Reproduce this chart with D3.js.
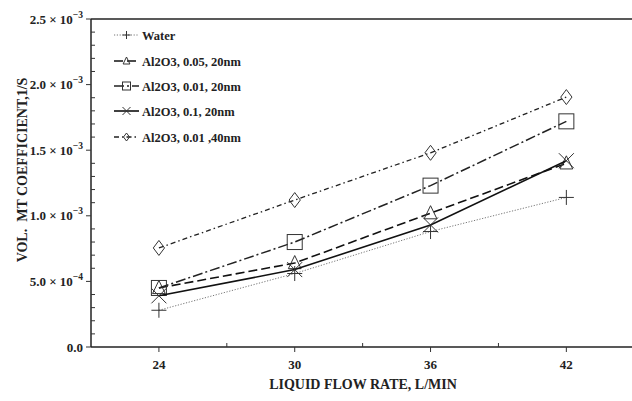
<!DOCTYPE html>
<html><head><meta charset="utf-8">
<script src="https://cdn.jsdelivr.net/npm/d3@7"></script>
<style>body{margin:0;background:#fff;} svg{display:block;}</style>
</head><body>
<script>
const flowRates = [24, 30, 36, 42];
const seriesNames = ["Water", "Al2O3, 0.05, 20nm", "Al2O3, 0.01, 20nm", "Al2O3, 0.1, 20nm", "Al2O3, 0.01 ,40nm"];
const water     = [0.28e-3, 0.56e-3, 0.88e-3, 1.14e-3];
const al005_20  = [0.45e-3, 0.64e-3, 1.02e-3, 1.40e-3];
const al001_20  = [0.45e-3, 0.80e-3, 1.23e-3, 1.72e-3];
const al01_20   = [0.39e-3, 0.59e-3, 0.93e-3, 1.42e-3];
const al001_40  = [0.755e-3, 1.12e-3, 1.48e-3, 1.905e-3];
const yTickMant = ["0.0", "5.0", "1.0", "1.5", "2.0", "2.5"];
const yTickExp  = ["", "-4", "-3", "-3", "-3", "-3"];
const yTickVals = [0, 0.5e-3, 1.0e-3, 1.5e-3, 2.0e-3, 2.5e-3];

const allSeries = [water, al005_20, al001_20, al01_20, al001_40];
const styles = [
  {dash:"1.2,1.6", w:1, color:"#777", marker:"plus"},
  {dash:"9,4", w:1.6, color:"#111", marker:"triangle"},
  {dash:"10,3,2,3", w:1.5, color:"#222", marker:"square"},
  {dash:null, w:1.6, color:"#111", marker:"cross"},
  {dash:"5,3,1.5,3", w:1.3, color:"#222", marker:"diamond"}
];

const W = 632, H = 401;
const L = 91, R = 632, T = 19, B = 347;
const svg = d3.select("body").append("svg").attr("width", W).attr("height", H);
const x = d3.scaleLinear().domain([21, 45]).range([L, L + (R - L) * 24 / 23.9]);
const y = d3.scaleLinear().domain([0, 2.5e-3]).range([B, T]);
const serif = "'Liberation Serif','DejaVu Serif',serif";

svg.append("line").attr("x1", L).attr("x2", R).attr("y1", T).attr("y2", T).attr("stroke", "#222").attr("stroke-width", 1.5);
const yAx = svg.append("g").attr("transform", `translate(${L},0)`);
yAx.append("line").attr("y1", T).attr("y2", B).attr("stroke", "#222").attr("stroke-width", 1.5);
const minorY = d3.range(0, 26).map(i => i * 0.1e-3).filter((v, i) => i % 5 !== 0);
yAx.selectAll(".mn").data(minorY).join("line").attr("x1", 0).attr("x2", 4).attr("y1", d => y(d)).attr("y2", d => y(d)).attr("stroke", "#333");
yAx.selectAll(".mj").data(yTickVals).join("line").attr("x1", -5).attr("x2", 0).attr("y1", d => y(d)).attr("y2", d => y(d)).attr("stroke", "#333");
const yl = yAx.selectAll(".yl").data(yTickVals).join("text")
  .attr("x", -8).attr("y", d => y(d) + 4.5).attr("text-anchor", "end")
  .attr("font-family", serif).attr("font-weight", "bold").attr("font-size", 13).attr("fill", "#222");
yl.each(function(d, i) {
  const t = d3.select(this);
  if (yTickExp[i] === "") { t.text(yTickMant[i]); return; }
  t.append("tspan").text(yTickMant[i] + " \u00d7 10");
  t.append("tspan").attr("dy", -6).attr("font-size", 9.5).text(yTickExp[i].replace("-", "\u2212"));
});

const xAx = svg.append("g").attr("transform", `translate(0,${B})`);
xAx.append("line").attr("x1", L).attr("x2", R).attr("stroke", "#222").attr("stroke-width", 1.5);
xAx.selectAll(".mj").data(flowRates).join("line").attr("x1", d => x(d)).attr("x2", d => x(d)).attr("y1", 0).attr("y2", 5).attr("stroke", "#333");
xAx.selectAll(".mn").data([27, 33, 39]).join("line").attr("x1", d => x(d)).attr("x2", d => x(d)).attr("y1", 0).attr("y2", -4).attr("stroke", "#333");
xAx.selectAll(".xl").data(flowRates).join("text").attr("x", d => x(d)).attr("y", 22).attr("text-anchor", "middle")
  .attr("font-family", serif).attr("font-weight", "bold").attr("font-size", 13).attr("fill", "#222").text(d => d);

svg.append("text").attr("x", 363).attr("y", 389).attr("text-anchor", "middle")
  .attr("font-family", serif).attr("font-weight", "bold").attr("font-size", 14).attr("fill", "#222")
  .text("LIQUID FLOW RATE, L/MIN");
svg.append("text").attr("transform", "translate(27,170) rotate(-90)").attr("text-anchor", "middle")
  .attr("font-family", serif).attr("font-weight", "bold").attr("font-size", 14).attr("fill", "#222")
  .attr("xml:space", "preserve").text("VOL.  MT COEFFICIENT,1/S");

function drawMarker(g, type, cx, cy, s, color) {
  const h = s / 2;
  const common = sel => sel.attr("fill", "none").attr("stroke", color).attr("stroke-width", 1);
  if (type === "plus") {
    common(g.append("path").attr("d", `M${cx - h},${cy}H${cx + h}M${cx},${cy - h}V${cy + h}`));
  } else if (type === "cross") {
    common(g.append("path").attr("d", `M${cx - h},${cy - h}L${cx + h},${cy + h}M${cx - h},${cy + h}L${cx + h},${cy - h}`));
  } else if (type === "square") {
    common(g.append("rect").attr("x", cx - h).attr("y", cy - h).attr("width", s).attr("height", s));
  } else if (type === "triangle") {
    common(g.append("path").attr("d", `M${cx},${cy - h}L${cx + h * 0.85},${cy + h * 0.75}L${cx - h * 0.85},${cy + h * 0.75}Z`));
  } else if (type === "diamond") {
    common(g.append("path").attr("d", `M${cx},${cy - h}L${cx + h * 0.75},${cy}L${cx},${cy + h}L${cx - h * 0.75},${cy}Z`));
  }
}

const line = d3.line().x((d, i) => x(flowRates[i])).y(d => y(d));
allSeries.forEach((vals, si) => {
  const st = styles[si];
  const g = svg.append("g");
  g.append("path").datum(vals).attr("d", line).attr("fill", "none").attr("stroke", st.color)
    .attr("stroke-width", st.w).attr("stroke-dasharray", st.dash);
  vals.forEach((v, i) => drawMarker(g, st.marker, x(flowRates[i]), y(v), 15, "#333"));
});

const legY = [35, 61, 86, 111, 137];
seriesNames.forEach((name, i) => {
  const st = styles[i];
  const g = svg.append("g");
  g.append("line").attr("x1", 114).attr("x2", 139).attr("y1", legY[i]).attr("y2", legY[i])
    .attr("stroke", st.color).attr("stroke-width", st.w).attr("stroke-dasharray", st.dash);
  drawMarker(g, st.marker, 126.5, legY[i], 8, "#333");
  g.append("text").attr("x", 142).attr("y", legY[i] + 4.5).attr("font-family", serif).attr("font-weight", "bold")
    .attr("font-size", 12.5).attr("fill", "#222").text(name);
});
</script>
</body></html>
